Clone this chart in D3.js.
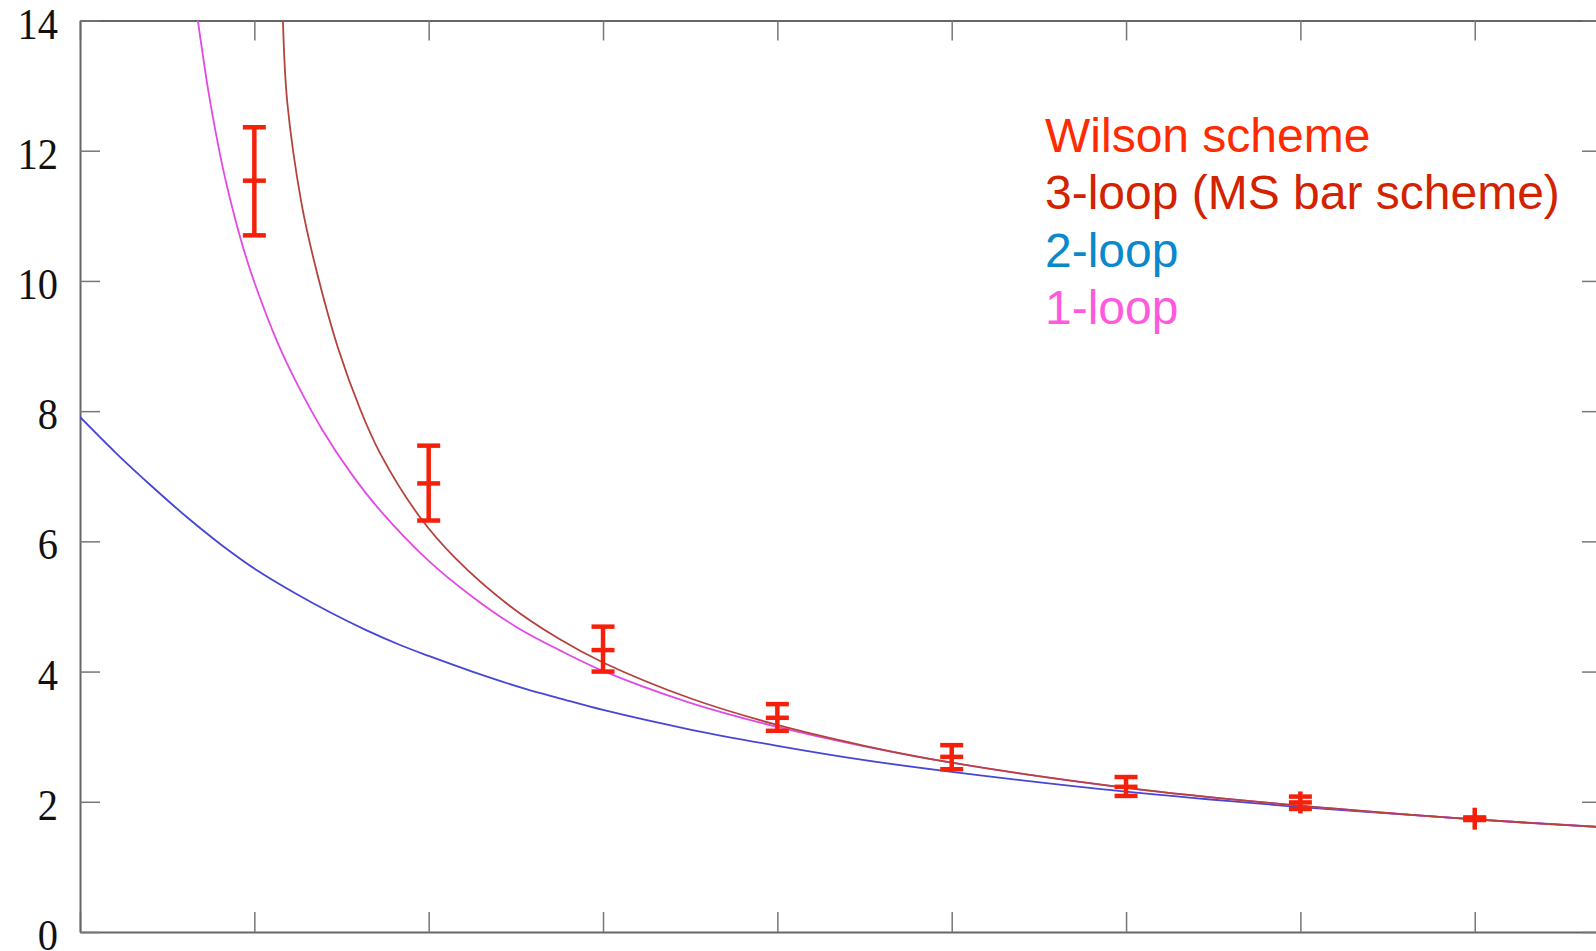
<!DOCTYPE html>
<html>
<head>
<meta charset="utf-8">
<script src="https://cdn.jsdelivr.net/npm/d3@7"></script>
<style>
  html, body { margin: 0; padding: 0; background: #fff; overflow: hidden; }
  svg { display: block; }
</style>
</head>
<body>
<div id="chart"></div>
<script>
(function() {
  'use strict';

  // tick values
  var xTicks = [0, 1, 2, 3, 4, 5, 6, 7, 8];
  var yTicks = [0, 2, 4, 6, 8, 10, 12, 14];

  // Wilson scheme points (value with error bar)
  var wilsonX = [1, 2, 3, 4, 5, 6, 7, 8];
  var wilsonY = [11.54, 6.89, 4.33, 3.29, 2.69, 2.23, 1.99, 1.74];
  var wilsonLo = [10.70, 6.32, 4.00, 3.09, 2.50, 2.09, 1.89, 1.72];
  var wilsonHi = [12.36, 7.47, 4.69, 3.50, 2.87, 2.38, 2.08, 1.76];

  // 3-loop curve
  var loop3X = [1.164, 1.189, 1.27, 1.347, 1.48, 1.61, 1.72, 1.945, 2.15, 2.46, 2.75, 3, 3.5, 4, 4.5, 5, 6, 7, 8, 8.73];
  var loop3Y = [14.0, 12.74, 11.2, 10.26, 8.97, 8.01, 7.36, 6.39, 5.75, 5.02, 4.50, 4.14, 3.59, 3.18, 2.86, 2.60, 2.215, 1.94, 1.73, 1.61];

  // 2-loop curve
  var loop2X = [0, 0.205, 0.41, 0.614, 0.819, 1.024, 1.229, 1.434, 1.638, 1.843, 2.0, 2.25, 2.56, 2.75, 3, 3.5, 4, 4.5, 5, 6, 7, 8, 8.73];
  var loop2Y = [7.91, 7.36, 6.85, 6.37, 5.93, 5.54, 5.21, 4.91, 4.64, 4.40, 4.24, 4.00, 3.73, 3.59, 3.41, 3.11, 2.86, 2.64, 2.46, 2.155, 1.92, 1.73, 1.614];

  // 1-loop curve
  var loop1X = [0.676, 0.736, 0.79, 0.84, 0.937, 1.0, 1.137, 1.249, 1.393, 1.556, 1.72, 2.0, 2.25, 2.5, 2.75, 3, 3.5, 4, 4.5, 5, 6, 7, 8, 8.73];
  var loop1Y = [14.0, 12.92, 12.12, 11.49, 10.50, 9.98, 9.03, 8.40, 7.70, 7.04, 6.48, 5.70, 5.15, 4.69, 4.33, 4.01, 3.52, 3.15, 2.85, 2.60, 2.215, 1.94, 1.73, 1.61];

  var legendLabels = ['Wilson scheme', '3-loop (MS bar scheme)', '2-loop', '1-loop'];
  var legendColors = ['#ff2a00', '#d22200', '#0a88cc', '#ff5ade'];

  var width = 1596, height = 951;
  var plot = { left: 80, top: 20.5, right: 1602, bottom: 932 };

  var x = d3.scaleLinear().domain([0, 8.73]).range([plot.left, plot.right]);
  var y = d3.scaleLinear().domain([0, 14]).range([plot.bottom, plot.top]);

  var svg = d3.select('#chart').append('svg')
    .attr('width', width)
    .attr('height', height);

  svg.append('defs').append('clipPath').attr('id', 'clip')
    .append('rect')
    .attr('x', plot.left).attr('y', plot.top)
    .attr('width', plot.right - plot.left)
    .attr('height', plot.bottom - plot.top);

  // axes, ticks pointing inward
  var tickLen = 20;
  var axisStyle = function(g) {
    g.select('.domain').attr('stroke', '#666').attr('stroke-width', 2);
    g.selectAll('.tick line').attr('stroke', '#777').attr('stroke-width', 1.5);
    g.selectAll('.tick text').remove();
  };

  svg.append('g')
    .attr('transform', 'translate(0,' + plot.bottom + ')')
    .call(d3.axisBottom(x).tickValues(xTicks).tickSizeInner(-tickLen).tickSizeOuter(0))
    .call(axisStyle);
  svg.append('g')
    .attr('transform', 'translate(0,' + plot.top + ')')
    .call(d3.axisTop(x).tickValues(xTicks).tickSizeInner(-tickLen).tickSizeOuter(0))
    .call(axisStyle);
  svg.append('g')
    .attr('transform', 'translate(' + plot.left + ',0)')
    .call(d3.axisLeft(y).tickValues(yTicks).tickSizeInner(-tickLen).tickSizeOuter(0))
    .call(axisStyle);
  svg.append('g')
    .attr('transform', 'translate(' + plot.right + ',0)')
    .call(d3.axisRight(y).tickValues(yTicks).tickSizeInner(-tickLen).tickSizeOuter(0))
    .call(axisStyle);

  // y tick labels (serif, condensed like the source image)
  svg.selectAll('.ylab')
    .data(yTicks)
    .enter().append('text')
    .attr('class', 'ylab')
    .attr('transform', function(d) {
      return 'translate(58,' + (y(d) + 18) + ') scale(0.92,1)';
    })
    .attr('text-anchor', 'end')
    .attr('font-family', '"Liberation Serif", "DejaVu Serif", serif')
    .attr('font-size', 44)
    .attr('fill', '#111')
    .text(function(d) { return d; });

  // curves
  var line = d3.line()
    .x(function(d) { return x(d[0]); })
    .y(function(d) { return y(d[1]); })
    .curve(d3.curveCatmullRom.alpha(0.5));

  var curves = [
    { xs: loop2X, ys: loop2Y, color: '#4646d6' },
    { xs: loop1X, ys: loop1Y, color: '#e24ae4' },
    { xs: loop3X, ys: loop3Y, color: '#b4433c' }
  ];

  var curveG = svg.append('g').attr('clip-path', 'url(#clip)');
  curves.forEach(function(c) {
    var pts = c.xs.map(function(v, i) { return [v, c.ys[i]]; });
    curveG.append('path')
      .datum(pts)
      .attr('fill', 'none')
      .attr('stroke', c.color)
      .attr('stroke-width', 1.8)
      .attr('d', line);
  });

  // Wilson error bars
  var errColor = '#f5200a';
  var capW = 11.5, markV = 11;
  var bars = svg.append('g').attr('class', 'wilson');
  var wilson = wilsonX.map(function(v, i) {
    return { x: v, y: wilsonY[i], lo: wilsonLo[i], hi: wilsonHi[i] };
  });
  var g = bars.selectAll('g').data(wilson).enter().append('g');
  g.append('line')
    .attr('x1', function(d) { return x(d.x); })
    .attr('x2', function(d) { return x(d.x); })
    .attr('y1', function(d) { return Math.min(y(d.hi), y(d.y) - markV); })
    .attr('y2', function(d) { return Math.max(y(d.lo), y(d.y) + markV); })
    .attr('stroke', errColor).attr('stroke-width', 4.5);
  ['hi', 'y', 'lo'].forEach(function(k) {
    g.append('line')
      .attr('x1', function(d) { return x(d.x) - capW; })
      .attr('x2', function(d) { return x(d.x) + capW; })
      .attr('y1', function(d) { return y(d[k]); })
      .attr('y2', function(d) { return y(d[k]); })
      .attr('stroke', errColor).attr('stroke-width', 4.5);
  });

  // legend text
  svg.selectAll('.legend')
    .data(legendLabels)
    .enter().append('text')
    .attr('class', 'legend')
    .attr('x', 1045)
    .attr('y', function(d, i) { return 151.7 + i * 57.4; })
    .attr('font-family', '"Liberation Sans", Arial, sans-serif')
    .attr('font-size', 48)
    .attr('fill', function(d, i) { return legendColors[i]; })
    .text(function(d) { return d; });
})();
</script>
</body>
</html>
